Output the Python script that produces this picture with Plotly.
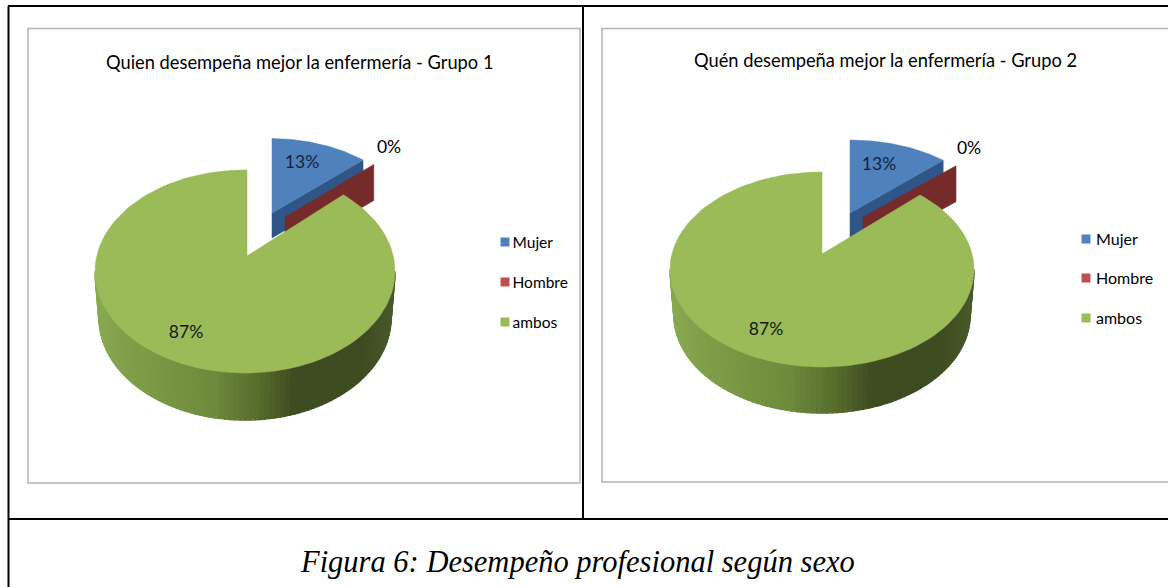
import numpy as np
import plotly.graph_objects as go

CATEGORIES = ["Mujer", "Hombre", "ambos"]
GRUPO_1 = [13, 0, 87]
GRUPO_2 = [13, 0, 87]
TITLES = [
    "Quien desempeña mejor la enfermería - Grupo 1",
    "Quén desempeña mejor la enfermería - Grupo 2",
]
CAPTION = "<i>Figura 6: Desempeño profesional según sexo</i>"

TOP_COLORS = ["#4f81bd", "#c0504d", "#9bbb59"]
WALL_COLORS = ["#2f5687", "#762b2b"]
WALL_STOPS = [0.0, 0.1, 0.4, 0.55, 0.67, 0.9, 1.0]
WALL_RGB = [(138, 170, 82), (130, 160, 74), (110, 138, 60), (86, 109, 44),
            (62, 76, 34), (63, 76, 34), (74, 90, 42)]
SANS = "Lato, sans-serif"

# page geometry of each panel, in pixels (x, y down)
PANELS = [
    dict(
        box=(28, 28.5, 580, 483),
        title=(299, 62),
        green=dict(apex=(247, 256), top=(245, 271.5, 150, 101.5), base=(245, 318, 146, 102)),
        blue=dict(apex=(272, 213), ell=(270, 226.5, 142, 88), depth=25),
        red=dict(apex=(285, 217), ell=(285, 231, 138, 87), depth=36),
        labels=[(302, 164), (389, 149), (186, 334)],
        legend_x=505, legend_y=[242, 282, 322], legend_text_x=512.5,
        legend_size=15.5,
    ),
    dict(
        box=(602, 28.5, 1172, 482),
        title=(885, 60),
        green=dict(apex=(822, 254), top=(822, 269.5, 152, 97.5), base=(822, 315.5, 148, 97.5)),
        blue=dict(apex=(850, 213), ell=(850, 228, 146, 88), depth=25),
        red=dict(apex=(863, 217), ell=(863, 231, 145, 85), depth=36),
        labels=[(879, 166), (969, 150), (766, 331)],
        legend_x=1086, legend_y=[239, 278, 318], legend_text_x=1096,
        legend_size=16,
    ),
]


def rim_point(theta, apex, ell):
    # where a ray from the slice apex meets the rim, theta clockwise from the top
    cx, cy, rx, ry = ell
    dx, dy = np.sin(theta) * rx, -np.cos(theta) * ry
    ox, oy = apex[0] - cx, apex[1] - cy
    a = (dx / rx) ** 2 + (dy / ry) ** 2
    b = 2 * (ox * dx / rx ** 2 + oy * dy / ry ** 2)
    c = (ox / rx) ** 2 + (oy / ry) ** 2 - 1
    t = (-b + np.sqrt(b * b - 4 * a * c)) / (2 * a)
    return apex[0] + t * dx, apex[1] + t * dy


def poly(x, y, color, width=0.5):
    return go.Scatter(
        x=list(x), y=list(y), mode="lines", fill="toself", fillcolor=color,
        line=dict(color=color, width=width), hoverinfo="skip", showlegend=False,
    )


def wedge(apex, ell, start, end, color):
    rim = [rim_point(t, apex, ell) for t in np.linspace(start, end, 120)]
    xs = [apex[0]] + [p[0] for p in rim] + [apex[0]]
    ys = [apex[1]] + [p[1] for p in rim] + [apex[1]]
    return poly(xs, ys, color)


def side_wall(apex_pt, rim_pt, depth, color):
    xs = [apex_pt[0], rim_pt[0], rim_pt[0], apex_pt[0], apex_pt[0]]
    ys = [apex_pt[1], rim_pt[1], rim_pt[1] + depth, apex_pt[1] + depth, apex_pt[1]]
    return poly(xs, ys, color)


def round_wall(top, base):
    traces = []
    edges = np.linspace(-np.pi / 2, np.pi / 2, 91)
    for a0, a1 in zip(edges[:-1], edges[1:]):
        xt = [top[0] + top[2] * np.sin(a) for a in (a0, a1)]
        yt = [top[1] + top[3] * np.cos(a) for a in (a0, a1)]
        xb = [base[0] + base[2] * np.sin(a) for a in (a1, a0)]
        yb = [base[1] + base[3] * np.cos(a) for a in (a1, a0)]
        f = (np.sin((a0 + a1) / 2) + 1) / 2
        rgb = [np.interp(f, WALL_STOPS, [c[i] for c in WALL_RGB]) for i in range(3)]
        color = "rgb(%d,%d,%d)" % tuple(rgb)
        traces.append(poly(xt + xb + xt[:1], yt + yb + yt[:1], color, width=1.5))
    return traces


fig = go.Figure()
annotations = []

for panel, values, title in zip(PANELS, [GRUPO_1, GRUPO_2], TITLES):
    total = sum(values)
    split = 2 * np.pi * values[0] / total
    after_red = split + 2 * np.pi * values[1] / total
    blue, red, green = panel["blue"], panel["red"], panel["green"]

    tip = rim_point(split, blue["apex"], blue["ell"])
    fig.add_trace(side_wall(blue["apex"], tip, blue["depth"], WALL_COLORS[0]))
    fig.add_trace(wedge(blue["apex"], blue["ell"], 0, split, TOP_COLORS[0]))

    tip = rim_point(after_red, red["apex"], red["ell"])
    fig.add_trace(side_wall(red["apex"], tip, red["depth"], WALL_COLORS[1]))

    for tr in round_wall(green["top"], green["base"]):
        fig.add_trace(tr)
    fig.add_trace(wedge(green["apex"], green["top"], after_red, 2 * np.pi, TOP_COLORS[2]))

    # percentage labels
    fig.add_trace(go.Scatter(
        x=[p[0] for p in panel["labels"]], y=[p[1] for p in panel["labels"]],
        mode="text", text=[f"{v}%" for v in values],
        textfont=dict(family=SANS, size=17.5, color=["#14213d", "#000000", "#10180a"]),
        hoverinfo="skip", showlegend=False,
    ))

    # legend
    fig.add_trace(go.Scatter(
        x=[panel["legend_x"]] * 3, y=panel["legend_y"], mode="markers",
        marker=dict(symbol="square", size=9, color=TOP_COLORS),
        hoverinfo="skip", showlegend=False,
    ))
    fig.add_trace(go.Scatter(
        x=[panel["legend_text_x"]] * 3, y=[y + 2 for y in panel["legend_y"]], mode="text",
        text=CATEGORIES, textposition="middle right",
        textfont=dict(family=SANS, size=panel["legend_size"], color="#000000"),
        hoverinfo="skip", showlegend=False,
    ))

    annotations.append(dict(
        x=panel["title"][0], y=panel["title"][1], text=title, showarrow=False,
        font=dict(family=SANS, size=18.3, color="#000000"),
    ))

annotations.append(dict(
    x=577, y=562, text=CAPTION, showarrow=False,
    font=dict(family="Liberation Serif, serif", size=30.5, color="#000000"),
))

shapes = []
for panel in PANELS:
    x0, y0, x1, y1 = panel["box"]
    shapes.append(dict(type="rect", x0=x0, y0=y0, x1=x1, y1=y1, layer="below",
                       line=dict(color="#b4b4b4", width=1.5)))
for x0, y0, x1, y1 in [(8.5, 6, 8.5, 587), (8, 6, 1168, 6), (583, 6, 583, 519), (8, 519, 1168, 519)]:
    shapes.append(dict(type="line", x0=x0, y0=y0, x1=x1, y1=y1, line=dict(color="#000000", width=2)))

fig.update_layout(
    width=1168, height=587, margin=dict(l=0, r=0, t=0, b=0),
    paper_bgcolor="#ffffff", plot_bgcolor="#ffffff", showlegend=False,
    xaxis=dict(range=[0, 1168], visible=False, fixedrange=True),
    yaxis=dict(range=[587, 0], visible=False, fixedrange=True),
    shapes=shapes, annotations=annotations,
)
fig.write_html(
    "out.html", config={"displayModeBar": False},
    post_script="document.body.style.margin='0';document.documentElement.style.overflow='hidden';",
)
